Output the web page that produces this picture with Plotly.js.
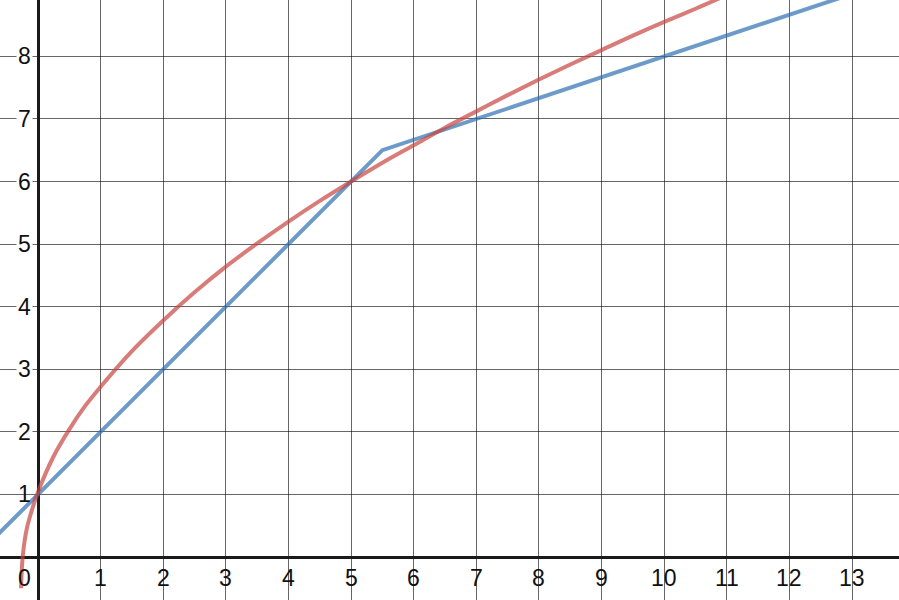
<!DOCTYPE html>
<html>
<head>
<meta charset="utf-8">
<script src="https://cdn.plot.ly/plotly-3.0.1.min.js"></script>
<style>
  html, body { margin: 0; padding: 0; background: #fff; }
  #graph { width: 899px; height: 600px; }
</style>
</head>
<body>
<div id="graph"></div>
<script>
// blue: piecewise line, bends at (5.5, 6.5)
var blueX = [-0.7, 5.5, 14];
var blueY = [0.3, 6.5, 9.33];

// red: curve
var redX = [-0.27, -0.245, -0.18, -0.1, 0, 0.25, 0.5, 0.75, 1, 1.5, 2, 2.5, 3, 3.5, 4, 4.5, 5, 5.5, 6, 6.5, 7, 7.5, 8, 8.5, 9, 9.5, 10, 10.5, 11];
var redY = [-0.5, 0, 0.45, 0.74, 1.04, 1.61, 2.04, 2.41, 2.72, 3.29, 3.78, 4.23, 4.64, 5.01, 5.36, 5.69, 6.0, 6.3, 6.58, 6.86, 7.12, 7.38, 7.63, 7.87, 8.1, 8.33, 8.55, 8.76, 8.98];

var xTicks = [0, 1, 2, 3, 4, 5, 6, 7, 8, 9, 10, 11, 12, 13];
var yTicks = [1, 2, 3, 4, 5, 6, 7, 8];

var labelFont = { family: "Liberation Sans, Arial, sans-serif", size: 23, color: "#111" };

var annotations = [];
xTicks.forEach(function (v) {
  annotations.push({
    x: v, y: 0, xref: "x", yref: "y",
    text: String(v), showarrow: false,
    xanchor: v === 0 ? "right" : "center", yanchor: "top",
    xshift: v === 0 ? -5 : 0, yshift: -6,
    font: labelFont
  });
});
yTicks.forEach(function (v) {
  annotations.push({
    x: 0, y: v, xref: "x", yref: "y",
    text: String(v), showarrow: false,
    xanchor: "right", yanchor: "middle",
    xshift: -5, bgcolor: v === 1 ? "rgba(0,0,0,0)" : "#fff", borderpad: 1,
    font: labelFont
  });
});

var data = [
  {
    x: blueX, y: blueY, mode: "lines", hoverinfo: "skip",
    line: { color: "rgba(45,112,179,0.7)", width: 4 }
  },
  {
    x: redX, y: redY, mode: "lines", hoverinfo: "skip",
    line: { color: "rgba(199,68,64,0.7)", width: 4, shape: "spline", smoothing: 1 }
  }
];

var layout = {
  width: 899,
  height: 600,
  margin: { l: 0, r: 0, t: 0, b: 0 },
  showlegend: false,
  paper_bgcolor: "#fff",
  plot_bgcolor: "#fff",
  xaxis: {
    range: [-0.607, 13.75],
    dtick: 1, tick0: 0,
    showgrid: true, gridcolor: "rgba(0,0,0,0.6)", gridwidth: 1,
    zeroline: true, zerolinecolor: "#1a1a1a", zerolinewidth: 3,
    showticklabels: false, ticks: "", fixedrange: true
  },
  yaxis: {
    range: [-0.687, 8.9],
    dtick: 1, tick0: 0,
    showgrid: true, gridcolor: "rgba(0,0,0,0.6)", gridwidth: 1,
    zeroline: true, zerolinecolor: "#1a1a1a", zerolinewidth: 3,
    showticklabels: false, ticks: "", fixedrange: true
  },
  annotations: annotations
};

Plotly.newPlot("graph", data, layout, { displayModeBar: false, staticPlot: true });
</script>
</body>
</html>
